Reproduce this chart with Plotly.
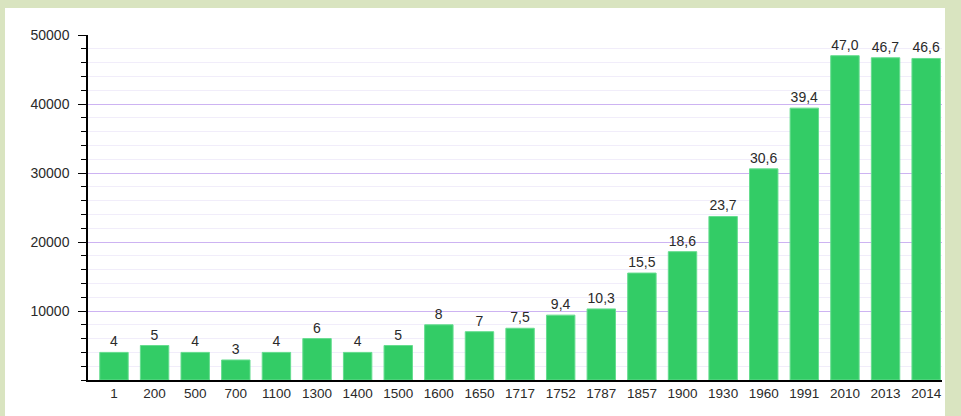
import plotly.graph_objects as go

# Years and values (thousands)
years = ["1", "200", "500", "700", "1100", "1300", "1400", "1500", "1600", "1650",
         "1717", "1752", "1787", "1857", "1900", "1930", "1960", "1991", "2010",
         "2013", "2014"]
values = [4000, 5000, 4000, 2900, 4000, 6000, 4000, 5000, 8000, 7000,
          7500, 9400, 10300, 15500, 18600, 23700, 30600, 39400, 47000,
          46700, 46600]
labels = ["4", "5", "4", "3", "4", "6", "4", "5", "8", "7",
          "7,5", "9,4", "10,3", "15,5", "18,6", "23,7", "30,6", "39,4", "47,0",
          "46,7", "46,6"]
y_ticks = [10000, 20000, 30000, 40000, 50000]
y_tick_text = ["10000", "20000", "30000", "40000", "50000"]

W, H = 961, 416
L, R, T, B = 88, 19, 35, 36
pw, ph = W - L - R, H - T - B

fig = go.Figure()
fig.add_trace(
    go.Bar(
        x=years,
        y=values,
        text=labels,
        textposition="outside",
        cliponaxis=False,
        textfont=dict(size=14, color="#2a2a2a"),
        marker=dict(color="#33cc66", line=dict(color="#66dd8f", width=1)),
        hoverinfo="x+y",
    )
)

# white card behind the plot
fig.add_shape(
    type="rect", xref="paper", yref="paper", layer="below",
    x0=(5 - L) / pw, x1=(945 - L) / pw,
    y0=-0.2, y1=(H - B - 8) / ph,
    fillcolor="white", line=dict(width=0),
)

fig.update_layout(
    width=W,
    height=H,
    margin=dict(l=L, r=R, t=T, b=B),
    paper_bgcolor="#d9e4c0",
    plot_bgcolor="white",
    font=dict(family="Liberation Sans, Arial, sans-serif", size=13, color="#2a2a2a"),
    bargap=0.3,
    showlegend=False,
    xaxis=dict(
        type="category",
        range=[-0.64, 20.39],
        showline=True,
        linecolor="black",
        linewidth=1.5,
        ticks="",
        showgrid=False,
        tickfont=dict(size=13.5, color="#2a2a2a"),
    ),
    yaxis=dict(
        range=[0, 50000],
        tickvals=y_ticks,
        ticktext=y_tick_text,
        showline=True,
        linecolor="black",
        linewidth=1.5,
        ticks="outside",
        ticklen=8,
        tickcolor="black",
        ticklabelstandoff=6,
        showgrid=True,
        gridcolor="#cdb3f2",
        gridwidth=1,
        zeroline=False,
        tickfont=dict(size=14, color="#2a2a2a"),
        minor=dict(dtick=2000, ticks="outside", ticklen=5, tickcolor="black",
                   showgrid=True, gridcolor="#f1edfa"),
    ),
)

fig.write_html(
    "out.html",
    config={"displayModeBar": False},
    post_script="document.body.style.margin='0';"
                "document.body.style.backgroundColor='#d9e4c0';",
)
